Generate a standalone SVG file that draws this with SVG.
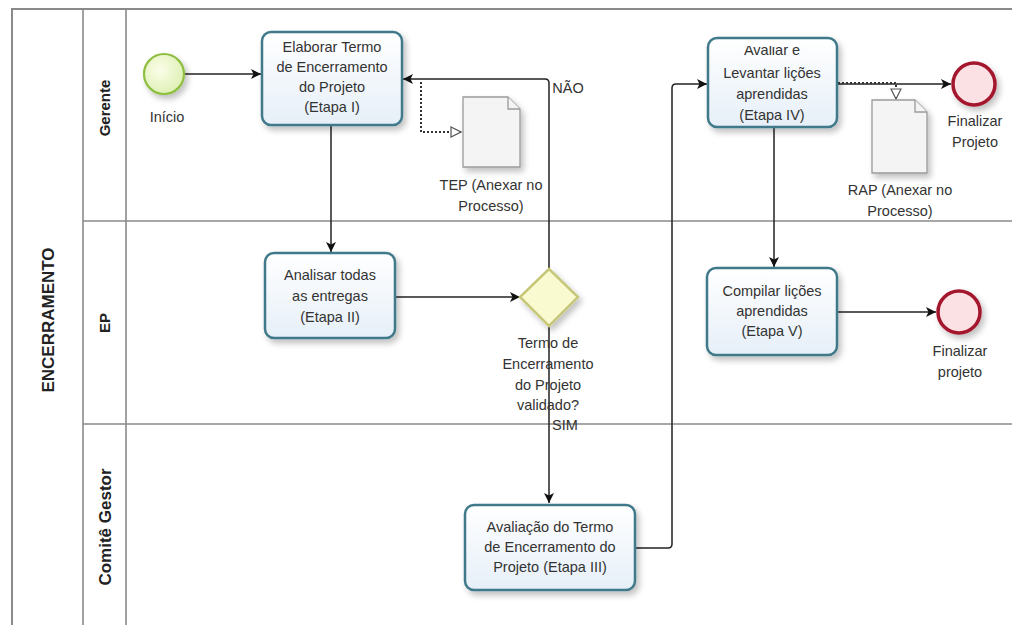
<svg xmlns="http://www.w3.org/2000/svg" width="1012" height="629" viewBox="0 0 1012 629">
<style>
.pool{fill:none;stroke:#8a8a8a;stroke-width:2}
.lane{fill:none;stroke:#8a8a8a;stroke-width:1.6}
.lbl{font-family:"Liberation Sans",Arial,sans-serif;fill:#222;font-weight:bold}
.t{font-family:"Liberation Sans",Arial,sans-serif;font-size:14.5px;fill:#333;text-anchor:middle}
.task{fill:url(#tg);stroke:#3f7a8a;stroke-width:2.5}
.flow{fill:none;stroke:#222;stroke-width:1.5}
.assoc{fill:none;stroke:#333;stroke-width:2;stroke-dasharray:2 2}
.doc{fill:#f4f4f4;stroke:#9a9a9a;stroke-width:1.3}
.end{fill:#fbe1e4;stroke:#a3192e;stroke-width:3.5}
</style>
<defs>
<linearGradient id="tg" x1="0" y1="0" x2="0" y2="1"><stop offset="0" stop-color="#ffffff"/><stop offset="1" stop-color="#e6eff8"/></linearGradient>
<radialGradient id="sg" cx="0.4" cy="0.4" r="0.7"><stop offset="0" stop-color="#fbfde8"/><stop offset="1" stop-color="#dcefb0"/></radialGradient>
<filter id="sh" x="-20%" y="-20%" width="150%" height="150%"><feGaussianBlur in="SourceAlpha" stdDeviation="3"/><feOffset dx="3" dy="4"/><feComponentTransfer><feFuncA type="linear" slope="0.25"/></feComponentTransfer><feMerge><feMergeNode/><feMergeNode in="SourceGraphic"/></feMerge></filter>
<clipPath id="c4"><rect x="700" y="46" width="150" height="30"/></clipPath>
<marker id="ar" viewBox="0 0 10 10" refX="10" refY="5" markerWidth="10" markerHeight="10" markerUnits="userSpaceOnUse" orient="auto"><path d="M0,0 L10,5 L0,10 L2.5,5 Z" fill="#111"/></marker>
<marker id="oa" viewBox="0 0 12 12" refX="11" refY="6" markerWidth="12" markerHeight="12" markerUnits="userSpaceOnUse" orient="auto"><path d="M1,1 L11,6 L1,11 Z" fill="#fff" stroke="#555" stroke-width="1.2"/></marker>
</defs>
<rect width="1012" height="629" fill="#fff"/>
<g id="pool">
<path class="pool" d="M12,625 V9 H1012"/>
<path class="lane" d="M83,9 V625 M126,9 V625 M83,221 H1012 M83,424 H1012"/>
<text class="lbl" font-size="17" transform="translate(54,320) rotate(-90)" text-anchor="middle">ENCERRAMENTO</text>
<text class="lbl" font-size="15" transform="translate(110,108) rotate(-90)" text-anchor="middle">Gerente</text>
<text class="lbl" font-size="15" transform="translate(110,323) rotate(-90)" text-anchor="middle">EP</text>
<text class="lbl" font-size="17" transform="translate(111,527) rotate(-90)" text-anchor="middle">Comitê Gestor</text>
</g>
<g id="connectors">
<path class="flow" d="M185,74 H261" marker-end="url(#ar)"/>
<path class="flow" d="M331,125 V252" marker-end="url(#ar)"/>
<path class="flow" d="M395,297 H520" marker-end="url(#ar)"/>
<path class="flow" d="M549,269 V83 Q549,79 545,79 H403" marker-end="url(#ar)"/>
<path class="flow" d="M549,326 V503" marker-end="url(#ar)"/>
<path class="flow" d="M635,548 H668 Q672,548 672,544 V88 Q672,84 676,84 H707" marker-end="url(#ar)"/>
<path class="flow" d="M837,84 H951" marker-end="url(#ar)"/>
<path class="flow" d="M774,127 V267" marker-end="url(#ar)"/>
<path class="flow" d="M837,312 H936" marker-end="url(#ar)"/>
<path class="assoc" d="M421,82 V132 H461" marker-end="url(#oa)"/>
<path class="assoc" d="M838,83 H896 V99" marker-end="url(#oa)"/>
<text class="t" x="568" y="93">NÃO</text>
<text class="t" x="565" y="430">SIM</text>
</g>
<g id="start">
<circle cx="164" cy="74" r="20" fill="url(#sg)" stroke="#8fbf3f" stroke-width="2.2" filter="url(#sh)"/>
<text class="t" x="167" y="122">Início</text>
</g>
<g id="task1">
<rect class="task" x="262" y="32" width="140" height="93" rx="9" filter="url(#sh)"/>
<text class="t"><tspan x="332" y="52">Elaborar Termo</tspan><tspan x="332" y="72">de Encerramento</tspan><tspan x="332" y="92">do Projeto</tspan><tspan x="332" y="112">(Etapa I)</tspan></text>
</g>
<g id="tep">
<path class="doc" d="M463,97 H508 L520,109 V167 H463 Z" filter="url(#sh)"/>
<path class="doc" d="M508,97 V109 H520" fill="none"/>
<text class="t"><tspan x="491" y="190">TEP (Anexar no</tspan><tspan x="491" y="211">Processo)</tspan></text>
</g>
<g id="task2">
<rect class="task" x="265" y="253" width="130" height="85" rx="9" filter="url(#sh)"/>
<text class="t"><tspan x="330" y="280">Analisar todas</tspan><tspan x="330" y="301">as entregas</tspan><tspan x="330" y="322">(Etapa II)</tspan></text>
</g>
<g id="gateway">
<path d="M549,269 L578,297 L549,326 L520,297 Z" fill="#fafad0" stroke="#c7c77a" stroke-width="2.5" filter="url(#sh)"/>
<text class="t"><tspan x="548" y="348">Termo de</tspan><tspan x="548" y="369">Encerramento</tspan><tspan x="548" y="390">do Projeto</tspan><tspan x="548" y="410">validado?</tspan></text>
</g>
<g id="task3">
<rect class="task" x="465" y="505" width="170" height="85" rx="9" filter="url(#sh)"/>
<text class="t"><tspan x="550" y="532">Avaliação do Termo</tspan><tspan x="550" y="552">de Encerramento do</tspan><tspan x="550" y="572">Projeto (Etapa III)</tspan></text>
</g>
<g id="task4">
<rect class="task" x="708" y="38" width="129" height="89" rx="9" filter="url(#sh)"/>
<text class="t" x="772" y="55" clip-path="url(#c4)">Avaliar e</text>
<text class="t"><tspan x="772" y="78">Levantar lições</tspan><tspan x="772" y="99">aprendidas</tspan><tspan x="772" y="120">(Etapa IV)</tspan></text>
</g>
<g id="rap">
<path class="doc" d="M872,100 H915 L927,112 V173 H872 Z" filter="url(#sh)"/>
<path class="doc" d="M915,100 V112 H927" fill="none"/>
<text class="t"><tspan x="900" y="195">RAP (Anexar no</tspan><tspan x="900" y="216">Processo)</tspan></text>
</g>
<g id="end1">
<circle class="end" cx="974" cy="84" r="21" filter="url(#sh)"/>
<text class="t"><tspan x="975" y="126">Finalizar</tspan><tspan x="975" y="147">Projeto</tspan></text>
</g>
<g id="task5">
<rect class="task" x="707" y="268" width="130" height="87" rx="9" filter="url(#sh)"/>
<text class="t"><tspan x="772" y="296">Compilar lições</tspan><tspan x="772" y="316">aprendidas</tspan><tspan x="772" y="336">(Etapa V)</tspan></text>
</g>
<g id="end2">
<circle class="end" cx="959" cy="312" r="21" filter="url(#sh)"/>
<text class="t"><tspan x="960" y="356">Finalizar</tspan><tspan x="960" y="377">projeto</tspan></text>
</g>
</svg>
